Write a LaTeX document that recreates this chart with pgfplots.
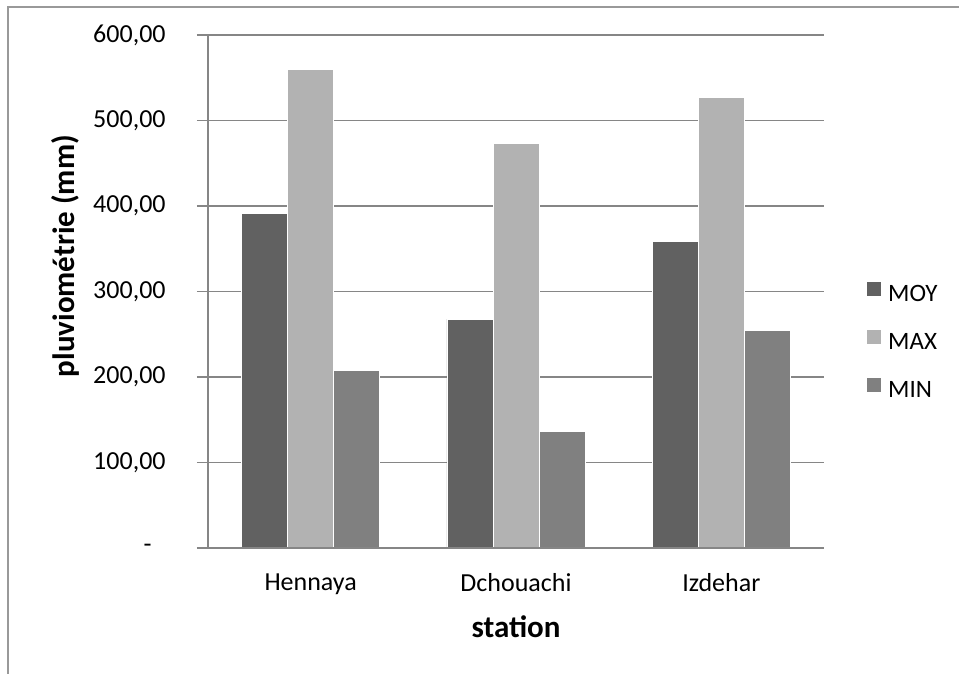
\documentclass[border=0pt]{standalone}
\usepackage{pgfplots}
\pgfplotsset{compat=1.18}
\usepackage{fontspec}
\setmainfont{Carlito}
\definecolor{cmoy}{HTML}{616161}
\definecolor{cmax}{HTML}{B2B2B2}
\definecolor{cmin}{HTML}{808080}
\definecolor{gridc}{HTML}{868686}
\definecolor{framec}{HTML}{999999}
\begin{document}
\begin{tikzpicture}
\useasboundingbox (0pt,0pt) rectangle (479.5pt,-337pt);
\draw[framec, line width=1pt] (4pt,-337pt) -- (4pt,-3.5pt) -- (479.5pt,-3.5pt);
\begin{axis}[
  at={(104pt,-274pt)}, anchor=south west,
  width=308pt, height=256.5pt, scale only axis,
  xmin=-0.5, xmax=2.5, ymin=0, ymax=600,
  ybar=0pt, bar width=23pt,
  axis x line=bottom, axis y line=left,
  axis line style={-, gridc, line width=0.8pt},
  xtick={0,1,2}, xticklabels={Hennaya,Dchouachi,Izdehar},
  xtick style={draw=none},
  ytick={0,100,...,600},
  yticklabels={{-\hspace*{7pt}},{100,00},{200,00},{300,00},{400,00},{500,00},{600,00}},
  ytick style={gridc, line width=0.8pt},
  tick align=outside, major tick length=5.5pt,
  ymajorgrids, major grid style={gridc, line width=0.8pt},
  yticklabel style={anchor=east, inner sep=0pt, xshift=-15.5pt, font=\fontsize{13}{15}\selectfont},
  xticklabel style={anchor=north, inner sep=0pt, yshift=-7pt, font=\fontsize{13}{15}\selectfont},
  xlabel={station}, ylabel={pluviométrie (mm)},
  xlabel style={at={(axis description cs:0.5,0)}, anchor=center, yshift=-39.5pt, inner sep=0pt, font=\bfseries\fontsize{15.5}{18}\selectfont},
  ylabel style={at={(axis description cs:-0.2321,0.569)}, anchor=center, inner sep=0pt, font=\bfseries\fontsize{15.5}{18}\selectfont},
  legend style={at={(1,0.4045)}, anchor=west, xshift=21pt, draw=none, fill=none, inner sep=0pt,
    font=\fontsize{12.5}{15}\selectfont, row sep=12pt,
    nodes={inner sep=0pt}, column sep=3pt},
  legend cell align=left,
  legend image code/.code={\fill[#1] (0pt,-0.5pt) rectangle (7.5pt,7pt);},
  every axis plot/.append style={draw=white, line width=0.4pt},
]
\addplot[fill=cmoy] coordinates {(0,391.2) (1,267.7) (2,358.2)};
\addplot[fill=cmax] coordinates {(0,559.6) (1,472.8) (2,527.3)};
\addplot[fill=cmin] coordinates {(0,207.9) (1,136.0) (2,254.7)};
\legend{MOY,MAX,MIN}
\draw[gridc, line width=0.8pt] (rel axis cs:0,0) -- (rel axis cs:1,0);
\end{axis}
\end{tikzpicture}
\end{document}
